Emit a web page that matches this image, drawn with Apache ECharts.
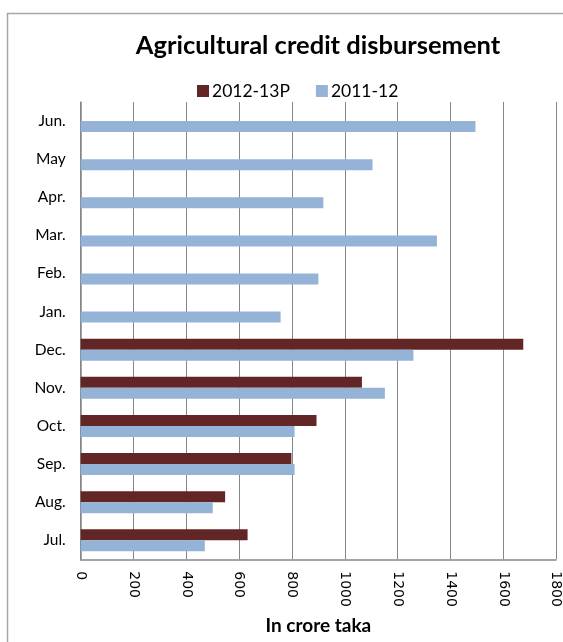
<!DOCTYPE html>
<html>
<head>
<meta charset="utf-8">
<script src="https://cdn.jsdelivr.net/npm/echarts@6/dist/echarts.min.js"></script>
<style>
html,body{margin:0;padding:0;background:#fff;}
#chart{width:563px;height:642px;}
</style>
</head>
<body>
<div id="chart"></div>
<script>
const months = ['Jul.', 'Aug.', 'Sep.', 'Oct.', 'Nov.', 'Dec.', 'Jan.', 'Feb.', 'Mar.', 'Apr.', 'May', 'Jun.'];
const seriesNames = ['2012-13P', '2011-12'];
const values2012_13P = [632, 547, 798, 893, 1065, 1676, null, null, null, null, null, null];
const values2011_12 = [470, 500, 810, 810, 1152, 1260, 757, 900, 1349, 919, 1105, 1495];
const xTicks = [0, 200, 400, 600, 800, 1000, 1200, 1400, 1600, 1800];

const chart = echarts.init(document.getElementById('chart'), null, {renderer: 'canvas'});
chart.setOption({
  animation: false,
  backgroundColor: '#ffffff',
  title: {
    text: 'Agricultural credit disbursement',
    left: 313,
    textAlign: 'center',
    top: 28,
    textStyle: {fontFamily: 'Lato', fontWeight: 'bold', fontSize: 25.5, color: '#000'}
  },
  legend: {
    data: seriesNames,
    left: 192,
    top: 77,
    itemWidth: 12,
    itemHeight: 12,
    itemGap: 26,
    icon: 'rect',
    textStyle: {fontFamily: 'Lato', fontSize: 17.5, color: '#000', padding: [0, 0, 0, -2]}
  },
  grid: {left: 80.7, right: 2, top: 102, bottom: 82.7, containLabel: false},
  xAxis: {
    type: 'value',
    min: xTicks[0],
    max: xTicks[xTicks.length - 1],
    interval: 200,
    name: 'In crore taka',
    nameLocation: 'middle',
    nameGap: 57,
    nameTextStyle: {fontFamily: 'Lato', fontWeight: 'bold', fontSize: 19, color: '#000'},
    axisLine: {show: true, lineStyle: {color: '#868686', width: 1.5}},
    axisTick: {show: false},
    axisLabel: {rotate: -90, margin: 12, fontFamily: 'DejaVu Sans', fontSize: 14, color: '#000',
      formatter: function (v) { return String(v); }},
    splitLine: {show: true, lineStyle: {color: '#868686', width: 1}}
  },
  yAxis: {
    type: 'category',
    data: months,
    axisLine: {show: true, lineStyle: {color: '#868686', width: 1.5}},
    axisTick: {show: false},
    axisLabel: {margin: 15, fontFamily: 'Lato', fontSize: 15.5, color: '#000'},
    splitLine: {show: false}
  },
  series: [
    {
      name: seriesNames[0],
      type: 'bar',
      data: values2012_13P,
      barWidth: 11,
      barGap: '0%',
      itemStyle: {color: '#632626'}
    },
    {
      name: seriesNames[1],
      type: 'bar',
      data: values2011_12,
      barWidth: 11,
      barGap: '0%',
      itemStyle: {color: '#95B3D7'}
    }
  ],
  graphic: [{
    type: 'rect',
    silent: true,
    shape: {x: 7.5, y: 13.5, width: 700, height: 800},
    style: {fill: 'none', stroke: '#a6a6a6', lineWidth: 1.5},
    z: 100
  }]
});
</script>
</body>
</html>
